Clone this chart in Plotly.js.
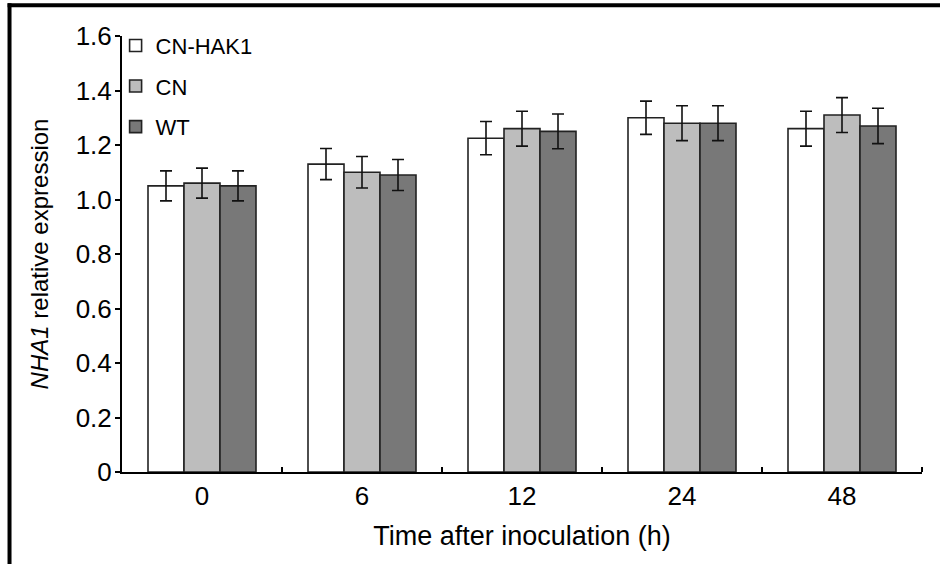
<!DOCTYPE html>
<html>
<head>
<meta charset="utf-8">
<script src="https://cdn.plot.ly/plotly-3.0.1.min.js"></script>
<style>html,body{margin:0;padding:0;background:#fff;}#chart{width:940px;height:564px;}</style>
</head>
<body>
<div id="chart"></div>
<script>
// Data
const categories = ['0', '6', '12', '24', '48'];
const seriesNames = ['CN-HAK1', 'CN', 'WT'];
const cnHak1 = [1.05, 1.13, 1.225, 1.30, 1.26];
const cn = [1.06, 1.10, 1.26, 1.28, 1.31];
const wt = [1.05, 1.09, 1.25, 1.28, 1.27];
const cnHak1Err = [0.055, 0.057, 0.061, 0.061, 0.064];
const cnErr = [0.055, 0.058, 0.064, 0.064, 0.064];
const wtErr = [0.055, 0.057, 0.064, 0.064, 0.065];
const yTickVals = [0, 0.2, 0.4, 0.6, 0.8, 1.0, 1.2, 1.4, 1.6];
const yTickText = ['0', '0.2', '0.4', '0.6', '0.8', '1.0', '1.2', '1.4', '1.6'];

const xIdx = categories.map((c, i) => i);
const boundaries = categories.map((c, i) => i + 0.5);
const fills = ['#ffffff', '#bdbdbd', '#787878'];
const values = [cnHak1, cn, wt];
const errs = [cnHak1Err, cnErr, wtErr];

const traces = seriesNames.map((name, k) => ({
  type: 'bar',
  name: name,
  legendgroup: 'g' + k,
  x: xIdx,
  y: values[k],
  marker: {color: fills[k], line: {color: '#222', width: 1.6}},
  error_y: {type: 'data', array: errs[k], visible: true, color: '#111', thickness: 1.6, width: 6}
}));

const font = 'Liberation Sans, Arial, sans-serif';
const layout = {
  width: 940, height: 564,
  paper_bgcolor: '#fff', plot_bgcolor: '#fff',
  margin: {l: 122, r: 18, t: 36, b: 92},
  barmode: 'group', bargap: 0.325, bargroupgap: 0,
  font: {family: font, color: '#000'},
  showlegend: true,
  legend: {x: -0.008, y: 1.026, xanchor: 'left', yanchor: 'top', bgcolor: 'rgba(0,0,0,0)',
           font: {size: 22, family: font}, tracegroupgap: 9, traceorder: 'grouped'},
  xaxis: {
    type: 'linear', range: [-0.5, 4.5],
    tickmode: 'array', tickvals: xIdx, ticktext: categories, ticks: '',
    showline: true, linecolor: '#000', linewidth: 2, showgrid: false, zeroline: false,
    tickfont: {size: 26, family: font},
    minor: {tickmode: 'array', tickvals: boundaries, ticks: 'inside', ticklen: 5, tickwidth: 2, tickcolor: '#000', showgrid: false},
    title: {text: 'Time after inoculation (h)', font: {size: 27, family: font}, standoff: 16}
  },
  yaxis: {
    range: [0, 1.6], tickmode: 'array', tickvals: yTickVals, ticktext: yTickText,
    ticks: 'outside', ticklen: 5, tickwidth: 2, tickcolor: '#000', ticklabelstandoff: -2,
    showline: true, linecolor: '#000', linewidth: 2, showgrid: false, zeroline: false,
    tickfont: {size: 26, family: font},
    title: {text: '<i>NHA1</i> relative expression', font: {size: 24, family: font}, standoff: 20}
  },
  shapes: [
    {type: 'line', xref: 'paper', yref: 'paper', x0: -0.143, x1: 1.03, y0: 1.0705, y1: 1.0705, line: {color: '#000', width: 4}},
    {type: 'line', xref: 'paper', yref: 'paper', x0: -0.1406, x1: -0.1406, y0: 1.075, y1: -0.22, line: {color: '#000', width: 4}}
  ]
};

Plotly.newPlot('chart', traces, layout, {staticPlot: true, displayModeBar: false});
</script>
</body>
</html>
